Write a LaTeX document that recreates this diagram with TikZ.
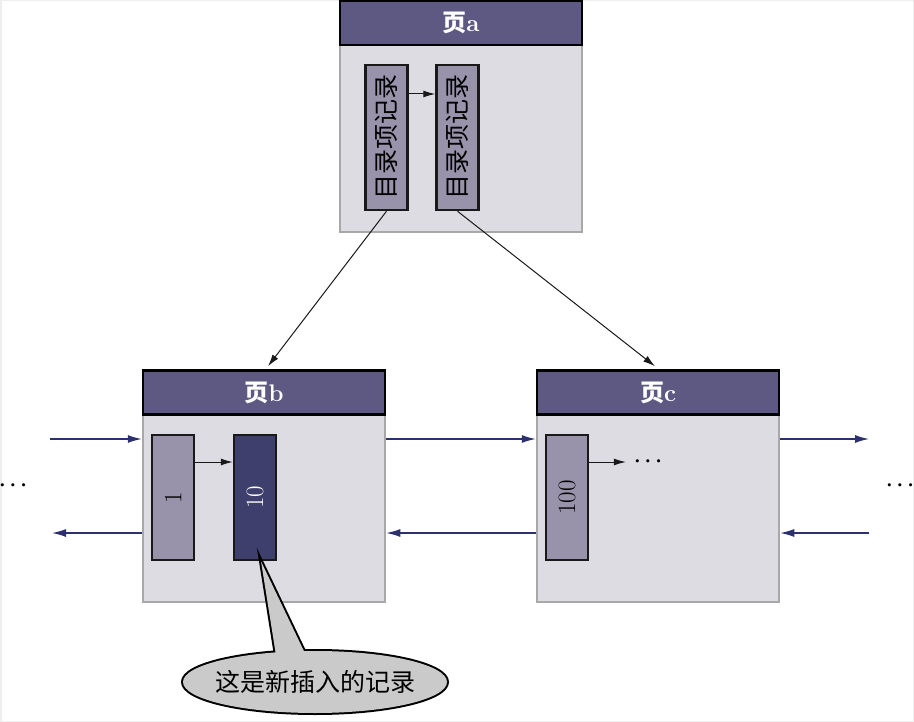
\documentclass[tikz,border=0pt]{standalone}
\usepackage{fontspec}
\newfontfamily\cjk{Noto Sans CJK SC}
\usetikzlibrary{arrows.meta,shapes.geometric}
\definecolor{headc}{RGB}{94,89,130}
\definecolor{bodyc}{RGB}{222,220,227}
\definecolor{bordc}{RGB}{168,168,168}
\definecolor{reclight}{RGB}{152,147,171}
\definecolor{recdark}{RGB}{62,63,108}
\definecolor{navy}{RGB}{45,48,110}
\definecolor{callgray}{RGB}{202,202,202}
\definecolor{framec}{RGB}{238,238,238}
\begin{document}
\begin{tikzpicture}[x=1pt,y=-1pt,
  pagebody/.style={draw=bordc, line width=2.5pt, fill=bodyc, minimum width=242pt, minimum height=187pt, inner sep=0pt},
  pagehead/.style={draw=black, line width=2.5pt, fill=headc, minimum width=242pt, minimum height=44pt, inner sep=0pt, text=white, font=\cjk\bfseries\fontsize{24}{24}\selectfont},
  recbox/.style={draw=black!90, line width=2.5pt, minimum width=42pt, inner sep=0pt},
  dirbox/.style={recbox, fill=reclight, minimum height=145pt, font=\cjk\fontsize{25}{25}\selectfont},
  databox/.style={recbox, minimum height=125pt, font=\fontsize{25}{25}\selectfont},
  linkarrow/.style={draw=black!90, line width=1pt, -{Latex[length=12pt,width=7pt]}},
  listarrow/.style={draw=navy, line width=1.3pt, -{Latex[length=14pt,width=8pt]}},
  dots/.style={inner sep=0pt, font=\fontsize{21}{21}\selectfont\boldmath},
]
\useasboundingbox (0,0) rectangle (914,722);
\draw[framec, line width=3pt] (0,0) rectangle (914,722);

% directory page
\node[pagebody] (abody) at (461,138.5) {};
\node[pagehead] (ahead) at (461,23) {页{\rmfamily\bfseries a}};
\node[dirbox] (r1) at (386.5,137.5) {\rotatebox{90}{目录项记录}};
\node[dirbox] (r2) at (457.5,137.5) {\rotatebox{90}{目录项记录}};
\draw[linkarrow] ([yshift=43.5pt]r1.east) -- ([yshift=43.5pt]r2.west);

% leaf pages
\node[pagebody] (bbody) at (264,508.5) {};
\node[pagehead] (bhead) at (264,392.5) {页{\rmfamily\bfseries b}};
\node[pagebody] (cbody) at (658,508.5) {};
\node[pagehead] (chead) at (658,392.5) {页{\rmfamily\bfseries c}};

% records inside the leaf pages
\node[databox, fill=reclight] (d1) at (173,497.5) {\rotatebox{90}{1}};
\node[databox, fill=recdark, text=white] (d10) at (255,497.5) {\rotatebox{90}{10}};
\node[databox, fill=reclight] (d100) at (567,497.5) {\rotatebox{90}{100}};
\node[dots] (cdots) at (648,462) {$\cdots$};
\draw[linkarrow] ([yshift=35.5pt]d1.east) -- ([yshift=35.5pt]d10.west);
\draw[linkarrow] ([yshift=35.5pt]d100.east) -- ([xshift=-8pt]cdots.west);

% directory entries point to the leaf pages
\draw[linkarrow] (r1.south) -- ([xshift=4pt,yshift=3pt]bhead.north);
\draw[linkarrow] (r2.south) -- ([xshift=-3pt,yshift=3pt]chead.north);

% doubly linked list between pages
\coordinate (lin) at (50,439);
\coordinate (lout) at (52,533);
\coordinate (rin) at (869,439);
\coordinate (rout) at (869,533);
\node[dots] (ldots) at (13,486) {$\cdots$};
\node[dots] (rdots) at (900,486) {$\cdots$};
\draw[listarrow] (lin) -- (bbody.west |- lin);
\draw[listarrow] (bbody.west |- lout) -- (lout);
\draw[listarrow] (bbody.east |- lin) -- (cbody.west |- lin);
\draw[listarrow] (cbody.west |- lout) -- (bbody.east |- lout);
\draw[listarrow] (cbody.east |- lin) -- (rin);
\draw[listarrow] (rout) -- (cbody.east |- rout);

% callout for the new record
\coordinate (tip) at ([xshift=6pt]d10.south);
\coordinate (pl) at (278,668);
\coordinate (pr) at (312,668);
\node[ellipse, draw=black, line width=4pt, minimum width=264pt, minimum height=62pt, inner sep=0pt] (callout) at (315,682) {};
\draw[black, line width=4pt, line join=miter] (pl) -- (tip) -- (pr);
\fill[callgray] (callout.center) ellipse [x radius=132pt, y radius=31pt];
\fill[callgray] (pl) -- (tip) -- (pr) -- cycle;
\node[font=\cjk\fontsize{25}{25}\selectfont, inner sep=0pt] (calltext) at (callout.center) {这是新插入的记录};
\end{tikzpicture}
\end{document}
